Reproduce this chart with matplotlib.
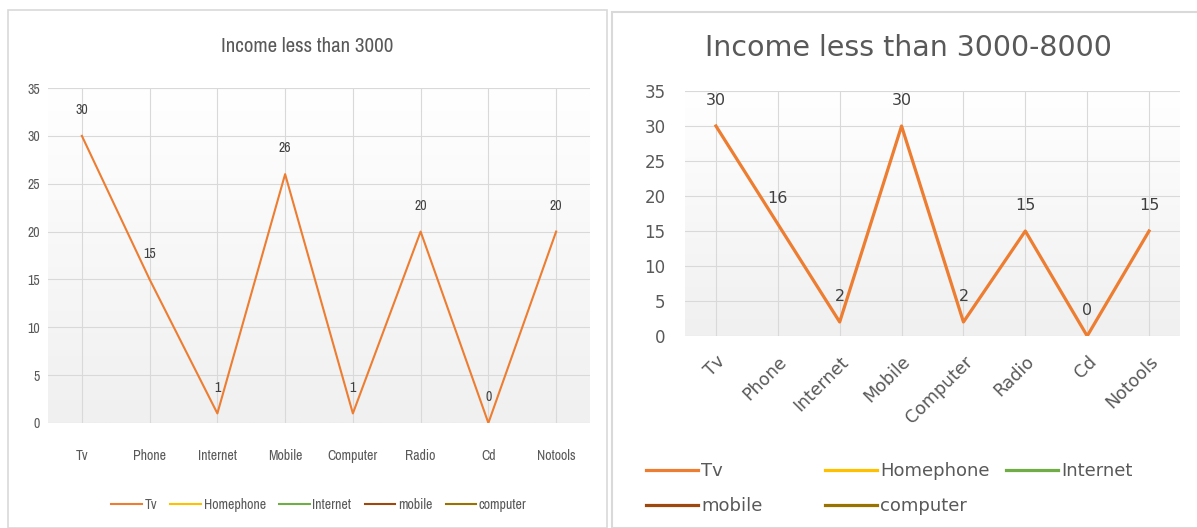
import numpy as np
import matplotlib.pyplot as plt
from matplotlib.patches import Rectangle
from matplotlib.colors import LinearSegmentedColormap
from matplotlib import font_manager as fm

categories = ['Tv', 'Phone', 'Internet', 'Mobile', 'Computer', 'Radio', 'Cd', 'Notools']
low_income = [30, 15, 1, 26, 1, 20, 0, 20]
mid_income = [30, 16, 2, 30, 2, 15, 0, 15]
legend_names = ['Tv', 'Homephone', 'Internet', 'mobile', 'computer']
legend_colors = ['#ED7D31', '#FFC000', '#70AD47', '#9E480E', '#997300']
yticks = [0, 5, 10, 15, 20, 25, 30, 35]

# narrow font for the left chart if one is around
names = sorted({f.name for f in fm.fontManager.ttflist})
narrow = [n for n in names if 'Narrow' in n or 'Condensed' in n]
fn_l = (narrow[:1] or ['DejaVu Sans']) + ['DejaVu Sans']

W, H = 1197, 528
fig = plt.figure(figsize=(W / 100, H / 100), dpi=100)

def px(x0, y0, x1, y1):
    # pixel box (top-left origin) -> figure fraction rect
    return [x0 / W, 1 - y1 / H, (x1 - x0) / W, (y1 - y0) / H]

# panel frames
fig.patches.append(Rectangle((8 / W, 0), 599 / W, 1 - 10 / H, transform=fig.transFigure,
                             fill=False, edgecolor='#d9d9d9', lw=1.2))
fig.patches.append(Rectangle((612 / W, 0), 590 / W, 1 - 12 / H, transform=fig.transFigure,
                             fill=False, edgecolor='#d9d9d9', lw=1.5))

grad = np.linspace(1, 0, 256).reshape(-1, 1)
bg = LinearSegmentedColormap.from_list('bg', ['#f0f0f0', '#ffffff'])

def draw(ax, vals, lw, font, fs, stretch):
    ax.imshow(grad, aspect='auto', cmap=bg, extent=[0, 1, 0, 1],
              transform=ax.transAxes, zorder=0)
    x = np.arange(len(categories))
    ax.plot(x, vals, color=legend_colors[0], lw=lw, zorder=3)
    for c in legend_colors[1:]:
        ax.plot([], [], color=c, lw=lw)
    ax.set_xlim(-0.5, len(categories) - 0.5)
    ax.set_ylim(0, 35)
    ax.set_yticks(yticks)
    ax.set_xticks(x)
    ax.grid(True, color='#d9d9d9', lw=0.8, zorder=1)
    ax.set_axisbelow(True)
    for s in ax.spines.values():
        s.set_visible(False)
    ax.tick_params(length=0, colors='#595959')
    for i, v in enumerate(vals):
        ax.annotate(str(v), (i, v), xytext=(0, 18.5), textcoords='offset points',
                    ha='center', va='center', fontsize=fs, family=font,
                    stretch=stretch, color='#404040')

# left chart
ax1 = fig.add_axes(px(48, 88, 590, 423))
draw(ax1, low_income, 1.5, fn_l, 10, 'condensed')
ax1.set_xticklabels(categories, family=fn_l, fontsize=10, stretch='condensed')
ax1.set_yticklabels(yticks, family=fn_l, fontsize=10, stretch='condensed')
ax1.tick_params(axis='x', pad=19)
ax1.tick_params(axis='y', pad=6)
fig.text(307 / W, 1 - 46 / H, 'Income less than 3000', ha='center', va='center',
         family=fn_l, stretch='condensed', fontsize=15, color='#595959')
leg1 = ax1.legend(legend_names, loc='center', bbox_to_anchor=(0.5, -0.245), ncol=5,
                  frameon=False, prop={'family': fn_l, 'size': 10, 'stretch': 'condensed'},
                  handlelength=2.2, handletextpad=0.2, columnspacing=0.95)
for t in leg1.get_texts():
    t.set_color('#595959')

# right chart
fn_r = ['DejaVu Sans']
ax2 = fig.add_axes(px(685, 91, 1180, 336))
draw(ax2, mid_income, 2.3, fn_r, 11.5, 'normal')
ax2.set_xticklabels(categories, family=fn_r, fontsize=12.5, rotation=45,
                    ha='right', rotation_mode='anchor')
ax2.set_yticklabels(yticks, family=fn_r, fontsize=12)
ax2.tick_params(axis='x', pad=12)
ax2.tick_params(axis='y', pad=14)
fig.text(908 / W, 1 - 48 / H, 'Income less than 3000-8000', ha='center', va='center',
         family=fn_r, fontsize=20.5, color='#595959')

# legend columns placed separately, like the spreadsheet layout
lines = ax2.get_lines()
columns = [([0, 3], 646), ([1, 4], 825), ([2], 1006)]
for idx, xpix in columns:
    lg = fig.legend([lines[i] for i in idx], [legend_names[i] for i in idx],
                    loc='upper left', bbox_to_anchor=(xpix / W, 1 - 462 / H),
                    frameon=False, prop={'family': fn_r, 'size': 13},
                    handlelength=2.9, handletextpad=0.15, labelspacing=0.95,
                    borderpad=0, borderaxespad=0)
    for t in lg.get_texts():
        t.set_color('#595959')

fig.savefig('out.png', dpi=100)
